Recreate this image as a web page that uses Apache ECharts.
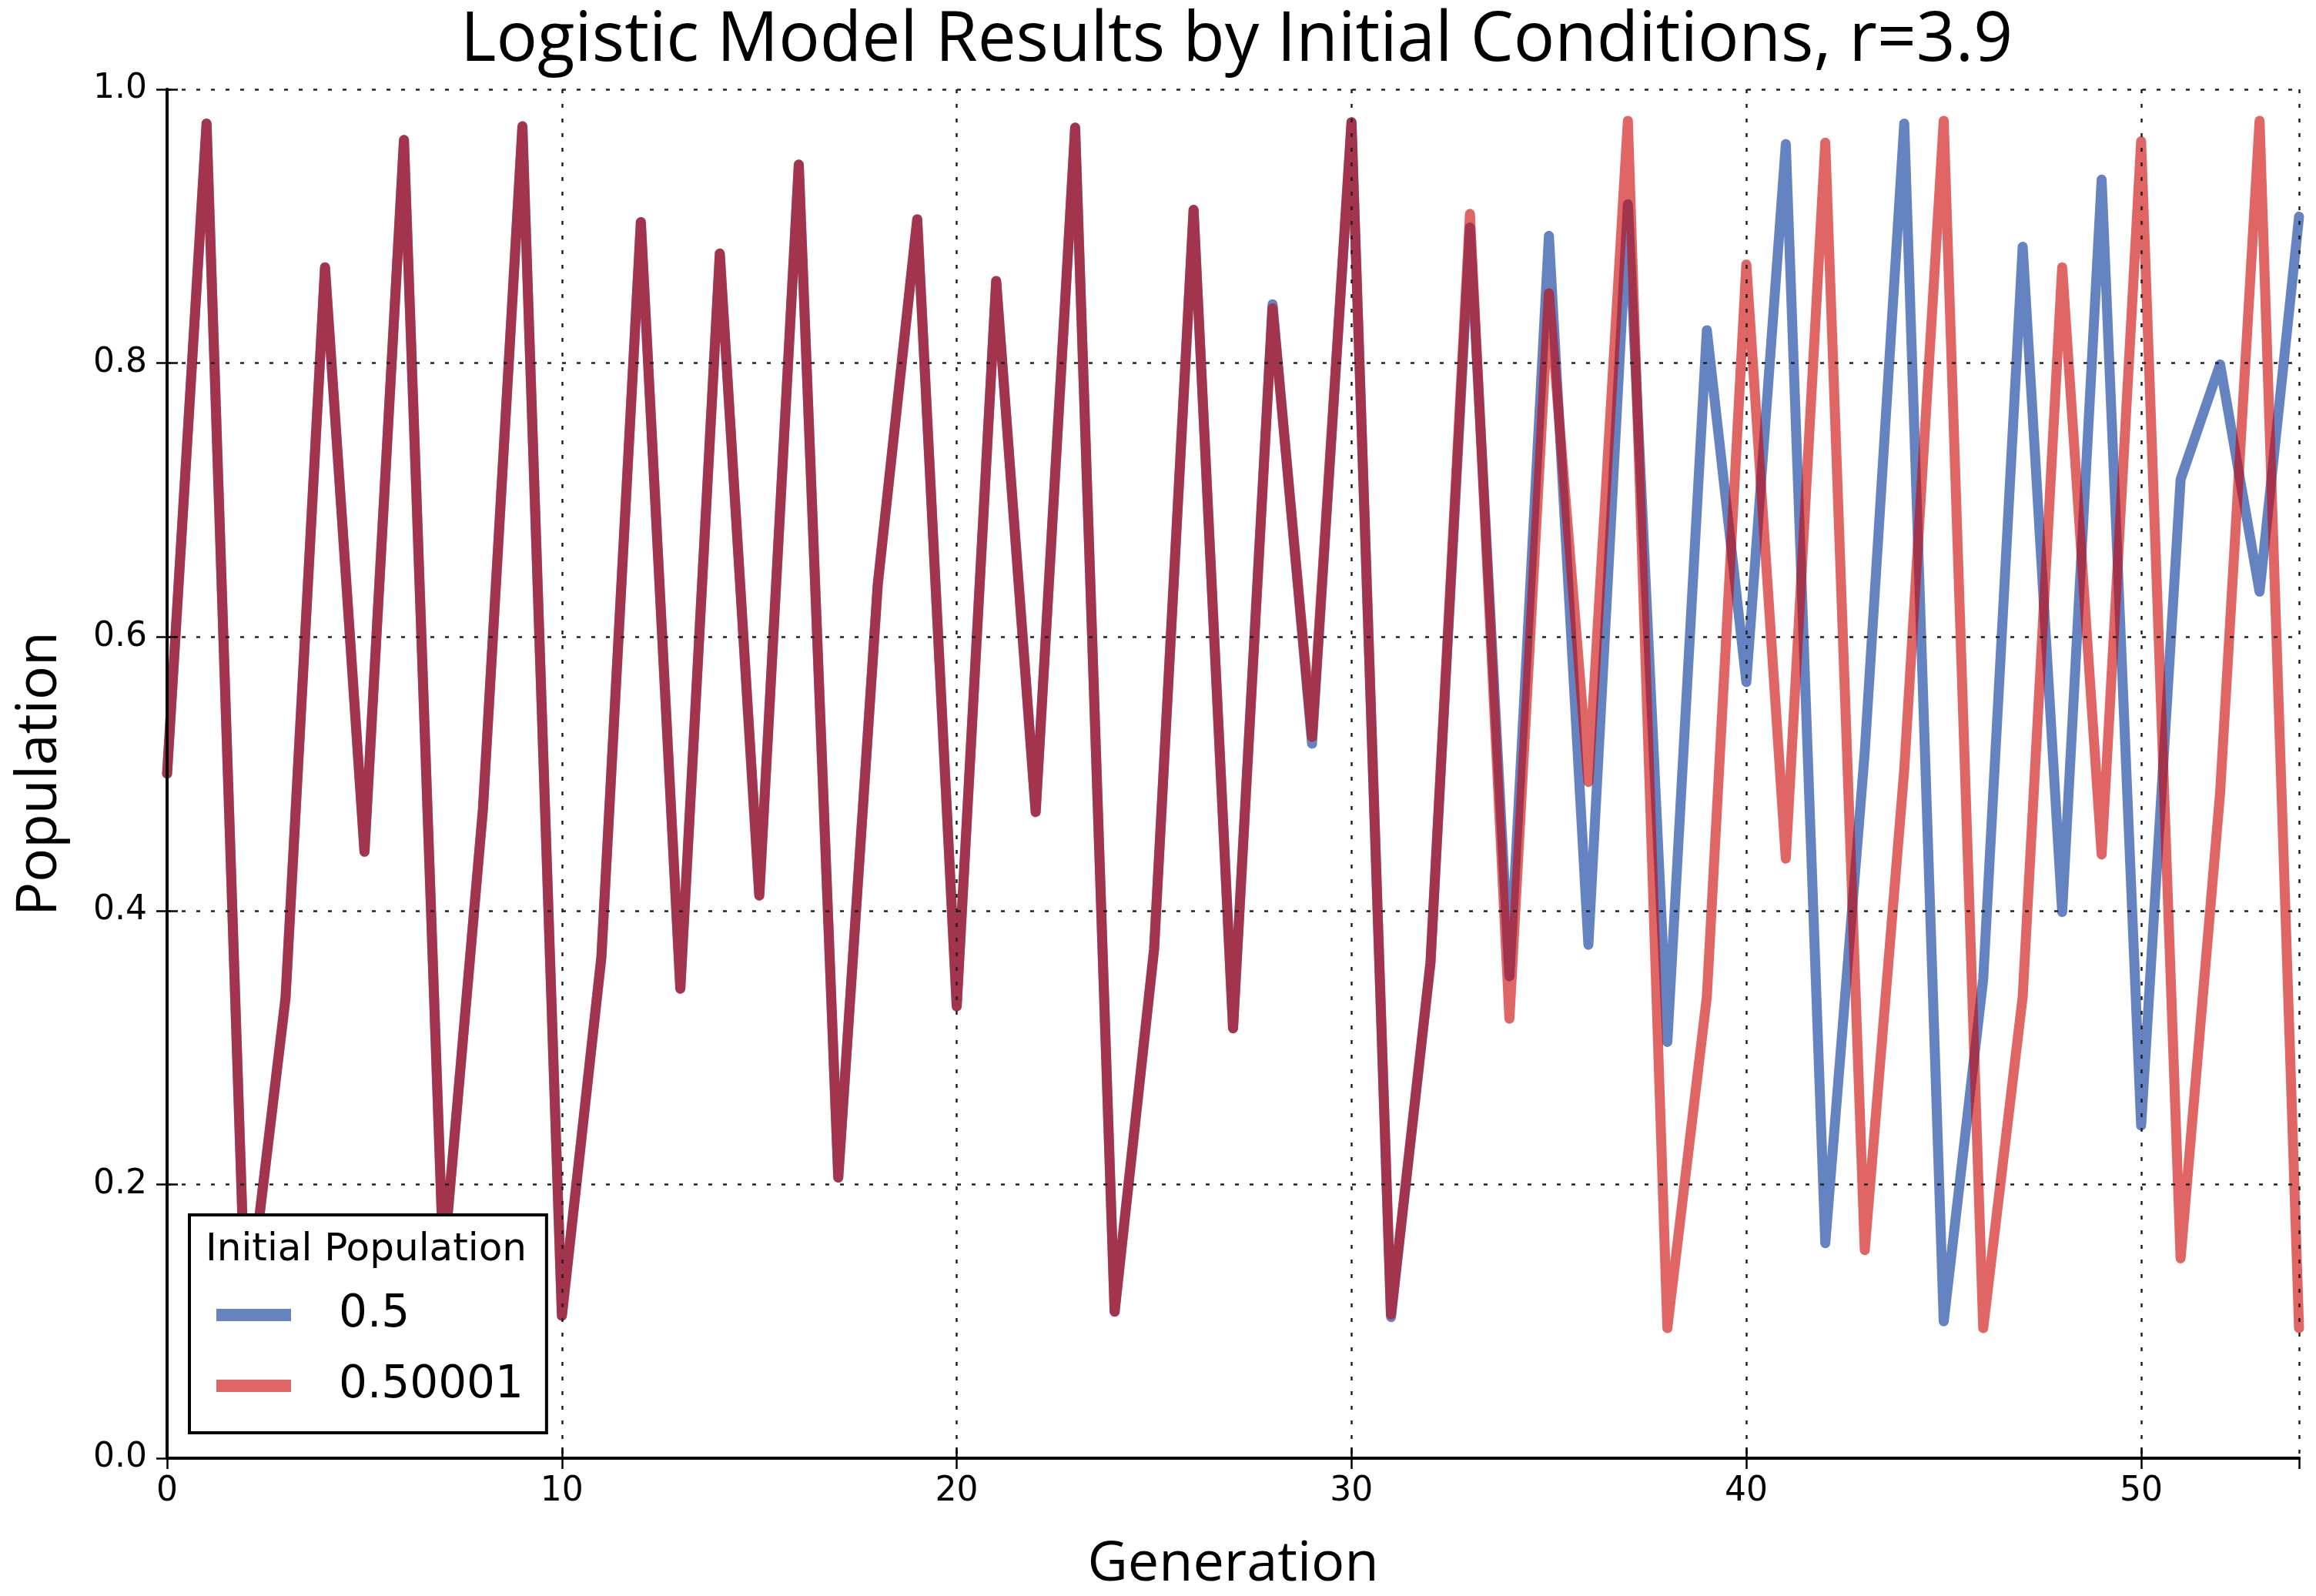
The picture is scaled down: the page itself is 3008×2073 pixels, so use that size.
<!DOCTYPE html>
<html>
<head>
<meta charset="utf-8">
<script src="https://cdn.jsdelivr.net/npm/echarts@6/dist/echarts.min.js"></script>
<style>
html, body { margin: 0; padding: 0; background: #fff; }
#chart { width: 3008px; height: 2073px; }
</style>
</head>
<body>
<div id="chart"></div>
<script>
// generations on the x axis
var generations = [0, 1, 2, 3, 4, 5, 6, 7, 8, 9, 10, 11, 12, 13, 14, 15, 16, 17, 18, 19,
    20, 21, 22, 23, 24, 25, 26, 27, 28, 29, 30, 31, 32, 33, 34, 35, 36, 37, 38, 39,
    40, 41, 42, 43, 44, 45, 46, 47, 48, 49, 50, 51, 52, 53, 54];

// population, initial value 0.5
var popA = [0.500, 0.975, 0.095, 0.336, 0.870, 0.443, 0.963, 0.142, 0.474, 0.973,
    0.104, 0.366, 0.903, 0.343, 0.880, 0.411, 0.945, 0.205, 0.638, 0.905,
    0.330, 0.860, 0.472, 0.972, 0.107, 0.372, 0.912, 0.314, 0.843, 0.522,
    0.976, 0.103, 0.362, 0.899, 0.352, 0.893, 0.375, 0.916, 0.304, 0.824,
    0.567, 0.960, 0.157, 0.516, 0.975, 0.100, 0.350, 0.885, 0.399, 0.934,
    0.243, 0.715, 0.799, 0.633, 0.907];

// population, initial value 0.50001
var popB = [0.500, 0.975, 0.095, 0.336, 0.870, 0.443, 0.963, 0.142, 0.474, 0.973,
    0.104, 0.366, 0.903, 0.343, 0.880, 0.411, 0.945, 0.205, 0.638, 0.905,
    0.330, 0.860, 0.472, 0.972, 0.107, 0.372, 0.912, 0.314, 0.840, 0.527,
    0.976, 0.105, 0.362, 0.909, 0.321, 0.851, 0.494, 0.977, 0.095, 0.337,
    0.872, 0.438, 0.961, 0.152, 0.503, 0.977, 0.095, 0.337, 0.870, 0.441,
    0.962, 0.146, 0.486, 0.977, 0.095];

var seriesNames = ['0.5', '0.50001'];
var yTicks = [0, 0.2, 0.4, 0.6, 0.8, 1.0];
var xTicks = [0, 10, 20, 30, 40, 50];

function pairs(xs, ys) {
    var out = [];
    for (var i = 0; i < xs.length; i++) out.push([xs[i], ys[i]]);
    return out;
}

var dom = document.getElementById('chart');
var myChart = echarts.init(dom, null, { renderer: 'canvas' });

var tickFont = 'DejaVu Sans';
var nameFont = 'Open Sans';

var gridLine = { show: true, lineStyle: { color: '#222', width: 2.5, type: [5, 14] } };
var edge = { show: true, lineStyle: { color: '#000', width: 4 } };
var ticks = { show: true, inside: true, length: 14, lineStyle: { color: '#000', width: 2.5 } };

var option = {
    backgroundColor: '#fff',
    animation: false,
    title: [
        {
            text: 'Logistic Model Results by Initial Conditions, r=3.9',
            left: 1601,
            top: 4,
            textAlign: 'center',
            textStyle: { fontFamily: nameFont, fontSize: 89, fontWeight: 'normal', color: '#000' }
        },
        {
            text: 'Initial Population',
            left: 262,
            top: 1594,
            textStyle: { fontFamily: tickFont, fontSize: 50, fontWeight: 'normal', color: '#000' }
        }
    ],
    legend: {
        data: seriesNames,
        orient: 'vertical',
        left: 246,
        top: 1578,
        padding: [98, 30, 29, 35],
        backgroundColor: '#fff',
        borderColor: '#000',
        borderWidth: 4,
        icon: 'rect',
        itemWidth: 97,
        itemHeight: 16,
        itemGap: 28,
        textStyle: { fontFamily: tickFont, fontSize: 58, lineHeight: 64, color: '#000', padding: [0, 0, 0, 57] }
    },
    grid: { left: 217, right: 22, top: 116, bottom: 179, containLabel: false },
    xAxis: [
        {
            type: 'value', min: 0, max: 54, interval: 10, z: 3,
            name: 'Generation', nameLocation: 'middle', nameGap: 102,
            nameTextStyle: { fontFamily: nameFont, fontSize: 72, color: '#000' },
            axisLine: edge, axisTick: ticks, splitLine: gridLine,
            axisLabel: {
                fontFamily: tickFont, fontSize: 44, color: '#000', margin: 22, showMaxLabel: false,
                formatter: function (v) { return xTicks.indexOf(v) >= 0 ? String(v) : ''; }
            }
        },
        {
            type: 'value', position: 'top', min: 0, max: 54, interval: 10, z: 3,
            axisLine: edge, axisTick: ticks, splitLine: { show: false }, axisLabel: { show: false }
        }
    ],
    yAxis: [
        {
            type: 'value', min: 0, max: 1, interval: 0.2, z: 3,
            name: 'Population', nameLocation: 'middle', nameGap: 128,
            nameTextStyle: { fontFamily: nameFont, fontSize: 73, color: '#000' },
            axisLine: edge, axisTick: ticks, splitLine: gridLine,
            axisLabel: {
                fontFamily: tickFont, fontSize: 44, color: '#000', margin: 26,
                formatter: function (v) {
                    for (var i = 0; i < yTicks.length; i++) {
                        if (Math.abs(yTicks[i] - v) < 1e-9) return yTicks[i].toFixed(1);
                    }
                    return '';
                }
            }
        },
        {
            type: 'value', position: 'right', min: 0, max: 1, interval: 0.2, z: 3,
            axisLine: edge, axisTick: ticks, splitLine: { show: false }, axisLabel: { show: false }
        }
    ],
    series: [
        {
            name: seriesNames[0],
            type: 'line',
            data: pairs(generations, popA),
            showSymbol: false,
            symbol: 'none',
            z: 2,
            itemStyle: { color: 'rgba(0,48,152,0.6)' },
            lineStyle: { color: 'rgba(0,48,152,0.6)', width: 13, join: 'round', cap: 'round' }
        },
        {
            name: seriesNames[1],
            type: 'line',
            data: pairs(generations, popB),
            showSymbol: false,
            symbol: 'none',
            z: 2,
            itemStyle: { color: 'rgba(204,0,0,0.6)' },
            lineStyle: { color: 'rgba(204,0,0,0.6)', width: 13, join: 'round', cap: 'round' }
        }
    ]
};

myChart.setOption(option);
</script>
</body>
</html>
